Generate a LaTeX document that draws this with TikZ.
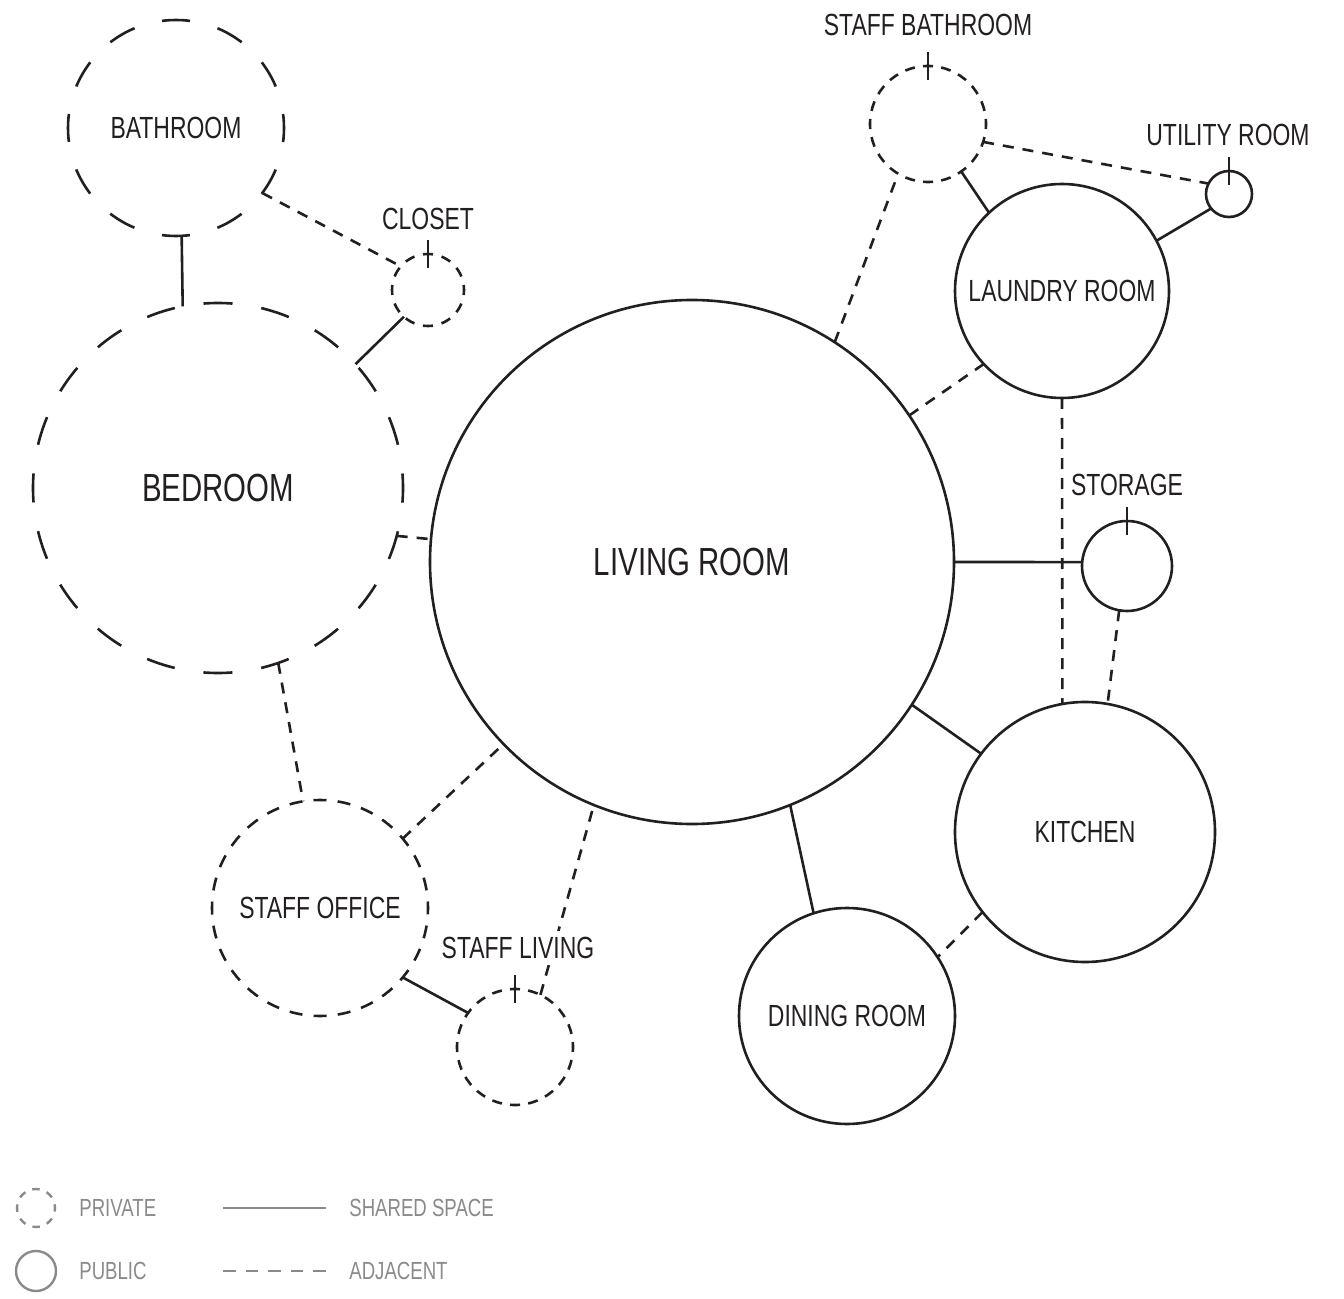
\documentclass[tikz,border=0pt]{standalone}
\usepackage{fontspec}
\setmainfont{Liberation Sans}[FakeStretch=0.75]
\definecolor{ink}{HTML}{231F20}
\definecolor{leg}{HTML}{8A8A8A}
\tikzset{
  room/.style={circle, draw=ink, line width=1.3pt, inner sep=0pt, outer sep=0pt, text=ink,
    font=\fontsize{15.3}{18}\selectfont},
  bigtext/.style={font=\fontsize{19.6}{23}\selectfont},
  pub/.style={room},
  privsmall/.style={room, dash pattern=on 5pt off 4.11pt, dash phase=2.5pt},
  privoffice/.style={room, dash pattern=on 6.5pt off 5.62pt, dash phase=3.25pt},
  privbath/.style={room, dash pattern=on 14pt off 14.27pt, dash phase=7pt},
  privbed/.style={room, dash pattern=on 14.5pt off 14.56pt, dash phase=7.25pt},
  shared/.style={draw=ink, line width=1.3pt},
  adj/.style={draw=ink, line width=1.3pt, dash pattern=on 5.5pt off 4.5pt},
  lbl/.style={text=ink, inner sep=3pt, fill=white, font=\fontsize{15.3}{18}\selectfont},
  leglbl/.style={text=leg, inner sep=0pt, anchor=west, font=\fontsize{12.4}{15}\selectfont},
}
\begin{document}
\begin{tikzpicture}[x=0.5pt,y=-0.5pt]
\useasboundingbox (0,0) rectangle (1344,1299);

% rooms (minimum size in pt = radius in px)
\node[privbath, minimum size=108pt] (bath) at (176,128) {BATHROOM};
\node[privbed, minimum size=185pt, bigtext] (bed) at (218,488) {BEDROOM};
\node[privsmall, minimum size=36pt, dash pattern=on 5pt off 4.42pt] (closet) at (428,290) {};
\node[pub, minimum size=262pt, bigtext] (living) at (692,562) {LIVING ROOM};
\node[privsmall, minimum size=58pt] (sbath) at (928,124) {};
\node[pub, minimum size=23pt] (util) at (1229,194) {};
\node[pub, minimum size=107pt] (laundry) at (1062,291) {LAUNDRY ROOM};
\node[pub, minimum size=45pt] (storage) at (1127,566) {};
\node[pub, minimum size=130pt] (kitchen) at (1085,832) {KITCHEN};
\node[pub, minimum size=108pt] (dining) at (847,1016) {DINING ROOM};
\node[privoffice, minimum size=108pt] (soffice) at (320,908) {STAFF OFFICE};
\node[privsmall, minimum size=58pt] (sliving) at (515,1047) {};

% connectors
\draw[shared] (bath.-87.4) -- (bed.101.4);
\draw[adj] (bath.-37.3) -- (closet.139.4);
\draw[shared] (bed.42.6) -- (closet.228.2);
\draw[adj] (bed.-15.5) -- (living.175.9);
\draw[adj] (bed.-71.3) -- (soffice.99.5);
\draw[adj] (soffice.40) -- (living.224.1);
\draw[shared] (soffice.-40.1) -- (sliving.144.7);
\draw[adj] (sliving.64.8) -- (living.248.1);
\draw[adj] (living.57.9) -- (sbath.-121.9);
\draw[adj] (living.34.5) -- (laundry.-137.7);
\draw[shared] (sbath.-55.8) -- (laundry.133.5);
\draw[adj] (sbath.-18.1) -- (util.153.4);
\draw[shared] (laundry.28) -- (util.-141.3);
\draw[adj] (laundry.-90) -- (kitchen.100.3);
\draw[shared] (living.0) -- (storage.175);
\draw[adj] (storage.-100) -- (kitchen.80.4);
\draw[shared] (living.-33.3) -- (kitchen.143.2);
\draw[shared] (living.-68.3) -- (dining.108.6);
\draw[adj] (kitchen.-142.4) -- (dining.33.4);

% outside labels
\node[lbl] (closetlbl) at (428,219) {CLOSET};
\node[lbl] (sbathlbl) at (928,25) {STAFF BATHROOM};
\node[lbl] (utillbl) at (1228,135) {UTILITY ROOM};
\node[lbl] (storagelbl) at (1127,485) {STORAGE};
\node[lbl] (slivinglbl) at (518,948) {STAFF LIVING};

% ticks
\foreach \n in {closet,sbath,util,storage,sliving}
  \draw[shared] (\n.north) ++(0,-14) -- ++(0,28);

% legend
\node[circle, draw=leg, line width=1.2pt, minimum size=19pt, inner sep=0pt,
  dash pattern=on 3.7pt off 3.76pt, dash phase=1.85pt] (legpriv) at (36,1208) {};
\node[circle, draw=leg, line width=1.2pt, minimum size=20pt, inner sep=0pt] (legpub) at (36,1271) {};
\node[leglbl] (legprivtxt) at (79,1208) {PRIVATE};
\node[leglbl] (legpubtxt) at (79,1271) {PUBLIC};
\coordinate (sa) at (223,1208);
\coordinate (sb) at (326,1208);
\coordinate (aa) at (223,1271);
\coordinate (ab) at (326,1271);
\draw[draw=leg, line width=1.2pt] (sa) -- (sb);
\draw[draw=leg, line width=1.2pt, dash pattern=on 6.25pt off 5pt] (aa) -- (ab);
\node[leglbl] (legsharedtxt) at (349,1208) {SHARED SPACE};
\node[leglbl] (legadjtxt) at (349,1271) {ADJACENT};
\end{tikzpicture}
\end{document}
